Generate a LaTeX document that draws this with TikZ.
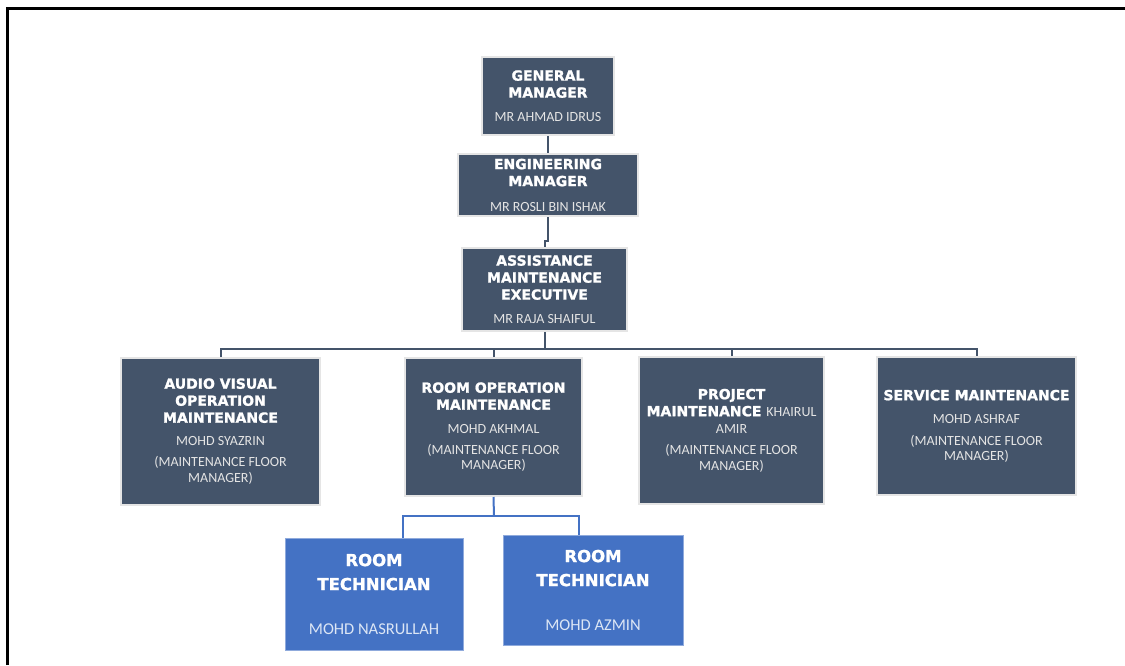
\documentclass[tikz,border=0pt]{standalone}
\usepackage{fontspec}
\newfontfamily\tfont{DejaVu Sans}[BoldFeatures={FakeBold=1.3}]
\newfontfamily\nfont{Carlito}
\definecolor{boxc}{HTML}{44546A}
\definecolor{bluec}{HTML}{4472C4}
\definecolor{namec}{HTML}{E4E4E4}
\definecolor{bnamec}{HTML}{DCE6F5}
\newcommand\nm[1]{{\nfont\mdseries\fontsize{14}{16}\selectfont\color{namec}#1}}
\newcommand\bnm[1]{{\nfont\mdseries\fontsize{16.5}{19}\selectfont\color{bnamec}#1}}
\begin{document}
\begin{tikzpicture}[x=1pt,y=-1pt,
  darkbox/.style={fill=boxc,draw=gray!20,line width=2pt,inner sep=0pt,align=center,text=white,
    font=\tfont\bfseries\fontsize{14}{17}\selectfont},
  bluebox/.style={fill=bluec,draw=bluec!60!white,line width=1pt,inner sep=0pt,align=center,text=white,
    font=\tfont\bfseries\fontsize{16.5}{24}\selectfont},
  conn/.style={draw=boxc,line width=2pt},
  bconn/.style={draw=bluec,line width=2pt}]
\useasboundingbox (0,0) rectangle (1125,665);
\draw[line width=3pt] (7.5,665) -- (7.5,8.5) -- (1125,8.5);

\node[darkbox,minimum width=132pt,minimum height=78pt] (GM) at (548,96)
  {GENERAL\\MANAGER\\[7pt]\nm{MR AHMAD IDRUS}};
\node[darkbox,minimum width=180pt,minimum height=62pt] (EM) at (548,185)
  {ENGINEERING\\MANAGER\\[8pt]\nm{MR ROSLI BIN ISHAK}};
\node[darkbox,minimum width=165pt,minimum height=83pt] (AME) at (544.5,289.5)
  {ASSISTANCE\\MAINTENANCE\\EXECUTIVE\\[7pt]\nm{MR RAJA SHAIFUL}};
\node[darkbox,minimum width=199pt,minimum height=147pt] (AV) at (220.5,431.5)
  {AUDIO VISUAL\\OPERATION\\MAINTENANCE\\[6pt]\nm{MOHD SYAZRIN}\\[4pt]\nm{(MAINTENANCE FLOOR}\\[-1pt]\nm{MANAGER)}};
\node[darkbox,minimum width=177pt,minimum height=138pt] (ROM) at (493.5,427)
  {ROOM OPERATION\\MAINTENANCE\\[7pt]\nm{MOHD AKHMAL}\\[4pt]\nm{(MAINTENANCE FLOOR}\\[-2pt]\nm{MANAGER)}};
\node[darkbox,minimum width=185pt,minimum height=147pt] (PM) at (731.5,430.5)
  {PROJECT\\MAINTENANCE \nm{KHAIRUL}\\\nm{AMIR}\\[4pt]\nm{(MAINTENANCE FLOOR}\\[-1pt]\nm{MANAGER)}};
\node[darkbox,minimum width=199pt,minimum height=138pt] (SM) at (976.5,426)
  {SERVICE MAINTENANCE\\[6pt]\nm{MOHD ASHRAF}\\[5pt]\nm{(MAINTENANCE FLOOR}\\[-2pt]\nm{MANAGER)}};
\node[bluebox,minimum width=178pt,minimum height=112pt] (RT1) at (374,594)
  {ROOM\\TECHNICIAN\\[20pt]\bnm{MOHD NASRULLAH}};
\node[bluebox,minimum width=180pt,minimum height=110pt] (RT2) at (593,590)
  {ROOM\\TECHNICIAN\\[20pt]\bnm{MOHD AZMIN}};

\draw[conn] (GM.south) -- (EM.north);
\draw[conn] (EM.south) -- ++(0,24) -| (AME.north);
\coordinate (bus) at (548,349);
\draw[conn] (AME.south) -- (AME.south |- bus);
\draw[conn] (AV.north) -- (AV.north |- bus) -- (SM.north |- bus) -- (SM.north);
\draw[conn] (ROM.north) -- (ROM.north |- bus);
\draw[conn] (PM.north) -- (PM.north |- bus);

\coordinate (tbus) at (494,516);
\coordinate (t1) at (403,516);
\coordinate (t2) at (579,516);
\draw[bconn] (ROM.south) -- (tbus);
\draw[bconn] (t1 |- RT1.north) -- (t1) -- (t2) -- (t2 |- RT2.north);
\end{tikzpicture}
\end{document}
